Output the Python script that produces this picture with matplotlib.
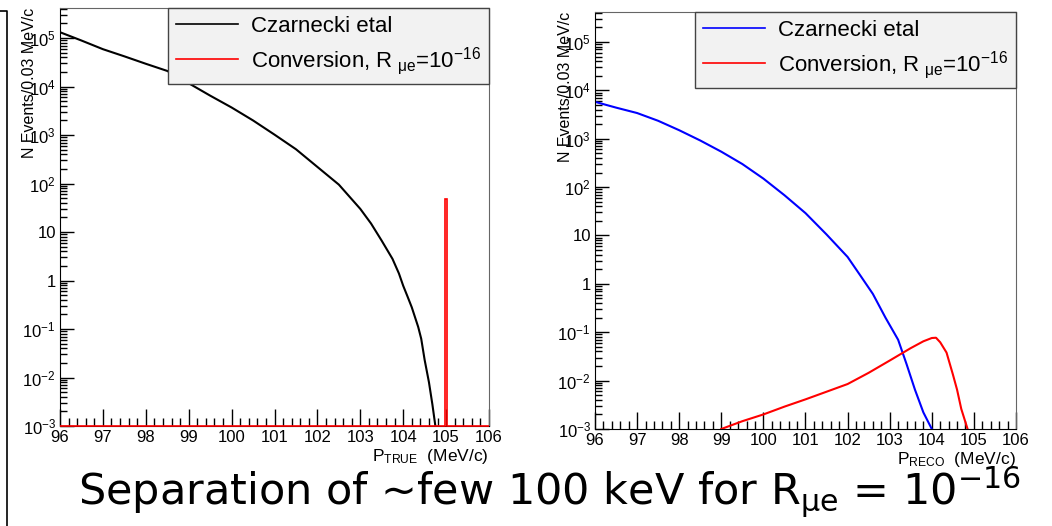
import numpy as np
import matplotlib
matplotlib.use("Agg")
import matplotlib.pyplot as plt
from matplotlib.ticker import LogLocator, FuncFormatter, MultipleLocator
from matplotlib.lines import Line2D

plt.rcParams["font.family"] = "Liberation Sans"

# ---- data ----
# left: true momentum, DIO spectrum (Czarnecki et al)
p_true = [96.0, 96.5, 97.0, 97.5, 98.0, 98.5, 99.0, 99.5, 100.0, 100.5, 101.0,
          101.5, 102.0, 102.5, 103.0, 103.25, 103.5, 103.75, 103.9, 104.0,
          104.1, 104.2, 104.35, 104.42, 104.5, 104.6, 104.68, 104.75]
dio_true = [1.32e5, 8.9e4, 5.9e4, 4.2e4, 2.95e4, 2.1e4, 1.17e4, 6.5e3, 3.7e3,
            2.0e3, 1.02e3, 510, 220, 95, 30, 15, 6.6, 2.8, 1.4, 0.78,
            0.47, 0.28, 0.11, 0.063, 0.023, 0.008, 0.0028, 0.001]
# conversion signal, true momentum (single bin at 105)
conv_true_edges = [96.0, 104.985, 105.015, 106.0]
conv_true_counts = [0.0, 48.0, 0.0]

# right: reconstructed momentum
p_reco_dio = [96.0, 96.5, 97.0, 97.5, 98.0, 98.5, 99.0, 99.5, 100.0, 100.5,
              101.0, 101.5, 102.0, 102.3, 102.6, 102.9, 103.2, 103.4, 103.6,
              103.8, 104.0]
dio_reco = [5.8e3, 4.4e3, 3.4e3, 2.35e3, 1.5e3, 920, 540, 300, 150, 68,
            29, 10.5, 3.6, 1.5, 0.62, 0.2, 0.07, 0.022, 0.0065, 0.0022, 0.001]
p_reco_conv = [99.0, 99.5, 100.0, 100.5, 101.0, 101.5, 102.0, 102.5, 103.0,
               103.5, 103.8, 104.0, 104.1, 104.2, 104.35, 104.5, 104.6,
               104.7, 104.85]
conv_reco = [0.001, 0.00145, 0.002, 0.0029, 0.0041, 0.0059, 0.0085, 0.0145,
             0.026, 0.047, 0.065, 0.076, 0.077, 0.062, 0.038, 0.0135, 0.0065,
             0.0026, 0.001]

ymin, ymax = 1e-3, 10 ** 5.62
xmin, xmax = 96, 106

W, H = 1052, 526
fig = plt.figure(figsize=(W / 100, H / 100), dpi=100)


def fx(px):
    return px / W


def fy(py):
    return 1 - py / H


def ytick_fmt(v, pos):
    e = int(round(np.log10(v)))
    if e == 0:
        return "1"
    if e == 1:
        return "10"
    return r"$\mathregular{10^{%d}}$" % e


def style_axes(ax, xname):
    ax.set_yscale("log")
    ax.set_xlim(xmin, xmax)
    ax.set_ylim(ymin, ymax)
    ax.xaxis.set_major_locator(MultipleLocator(1))
    ax.xaxis.set_minor_locator(MultipleLocator(0.2))
    ax.yaxis.set_major_locator(LogLocator(base=10, numticks=20))
    ax.yaxis.set_minor_locator(LogLocator(base=10, subs=np.arange(2, 10), numticks=20))
    ax.yaxis.set_major_formatter(FuncFormatter(ytick_fmt))
    ax.tick_params(which="both", direction="in", top=False, right=False,
                   labelsize=12, pad=3)
    ax.tick_params(axis="x", which="major", length=12, width=1)
    ax.tick_params(axis="x", which="minor", length=6, width=1)
    ax.tick_params(axis="y", which="major", length=10, width=1)
    ax.tick_params(axis="y", which="minor", length=5, width=1)
    for s in ["top", "right"]:
        ax.spines[s].set_color("#666666")
    for s in ["left", "bottom"]:
        ax.spines[s].set_color("black")
    ax.set_ylabel("N Events/0.03 MeV/c", fontsize=11.5, loc="top")
    ax.yaxis.set_label_coords(-0.053, 1.0)
    ax.set_xlabel(r"P$\mathregular{_{%s}}$  (MeV/c)" % xname, fontsize=12.5, loc="right",
                  labelpad=1)


conv_label = r"Conversion, R$\mathregular{_{\ \mu e}}$=10$\mathregular{^{-16}}$"

# left panel
ax1 = fig.add_axes([fx(60), fy(426), fx(489 - 60), (426 - 8) / H])
ax1.plot(p_true, dio_true, color="black", lw=1.5)
ax1.stairs(np.clip(conv_true_counts, ymin, None), conv_true_edges, color="red", lw=1.2,
           baseline=None, clip_on=False, zorder=3)
style_axes(ax1, r"\mathregular{TRUE}")

# right panel
ax2 = fig.add_axes([fx(595), fy(429), fx(1016 - 595), (429 - 12) / H])
ax2.plot(p_reco_dio, dio_reco, color="#0000ff", lw=1.5)
ax2.plot(p_reco_conv, conv_reco, color="red", lw=1.5)
style_axes(ax2, r"\mathregular{RECO}")

for ax, c_dio in ((ax1, "black"), (ax2, "#0000ff")):
    handles = [Line2D([], [], color=c_dio, lw=1.2), Line2D([], [], color="red", lw=1.2)]
    leg = ax.legend(handles, ["Czarnecki etal", conv_label], loc="upper right",
                    bbox_to_anchor=(1, 1), borderaxespad=0, fancybox=False,
                    framealpha=1, facecolor="#f2f2f2", edgecolor="#444444",
                    fontsize=16, handlelength=2.8, handletextpad=0.6,
                    borderpad=0.35, labelspacing=0.35)
    leg.get_frame().set_linewidth(1)

# slide frame fragment on the left edge
fig.add_artist(Line2D([fx(0), fx(7), fx(7)], [fy(11), fy(11), fy(526)],
                      color="black", lw=1.2))

# caption
fig.text(fx(78), fy(505),
         r"Separation of ~few 100 keV for R$\mathregular{_{μe}}$ = 10$\mathregular{^{-16}}$",
         fontfamily="DejaVu Sans", fontweight="normal", fontsize=31, color="black",
         va="baseline", ha="left")

fig.savefig("out.png", dpi=100)
